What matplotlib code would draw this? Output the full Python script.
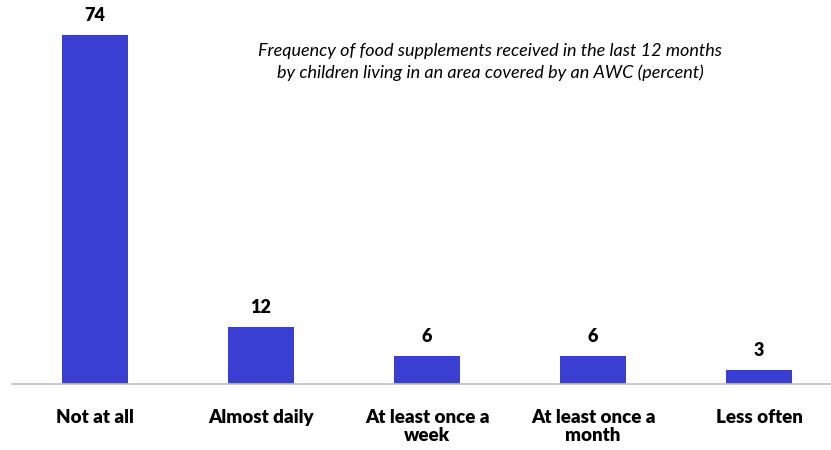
import matplotlib
matplotlib.use('Agg')
import matplotlib.pyplot as plt

# Donnees
categories = ['Not at all', 'Almost daily', 'At least once a\nweek', 'At least once a\nmonth', 'Less often']
values = [74, 12, 6, 6, 3]

bar_color = '#3A3FD4'
plt.rcParams['font.family'] = ['Lato', 'DejaVu Sans']

fig = plt.figure(figsize=(8.31, 4.5), dpi=100)
ax = fig.add_axes([12 / 831, 66 / 450, 830 / 831, 377 / 450])

x = range(len(categories))
bars = ax.bar(x, values, width=0.4, color=bar_color)

ax.set_xlim(-0.5, 4.5)
ax.set_ylim(0, 80)

# Etiquettes des valeurs
for xi, v in zip(x, values):
    ax.annotate(str(v), (xi, v), xytext=(0, 8), textcoords='offset points',
                ha='center', va='bottom', fontsize=13, fontweight='heavy')

ax.set_xticks(list(x))
ax.set_xticklabels(categories, fontsize=13.5, fontweight='heavy', linespacing=1.1)
ax.tick_params(axis='x', length=0, pad=18)
ax.set_yticks([])

for side in ['top', 'right', 'left']:
    ax.spines[side].set_visible(False)
ax.spines['bottom'].set_color('#BFBFBF')
ax.spines['bottom'].set_linewidth(1.2)

# Titre en italique
fig.text(490 / 831, 1 - 62 / 450,
         'Frequency of food supplements received in the last 12 months\n'
         'by children living in an area covered by an AWC (percent)',
         ha='center', va='center', fontsize=13, fontstyle='italic', linespacing=1.35)

fig.savefig('out.png', dpi=100)
